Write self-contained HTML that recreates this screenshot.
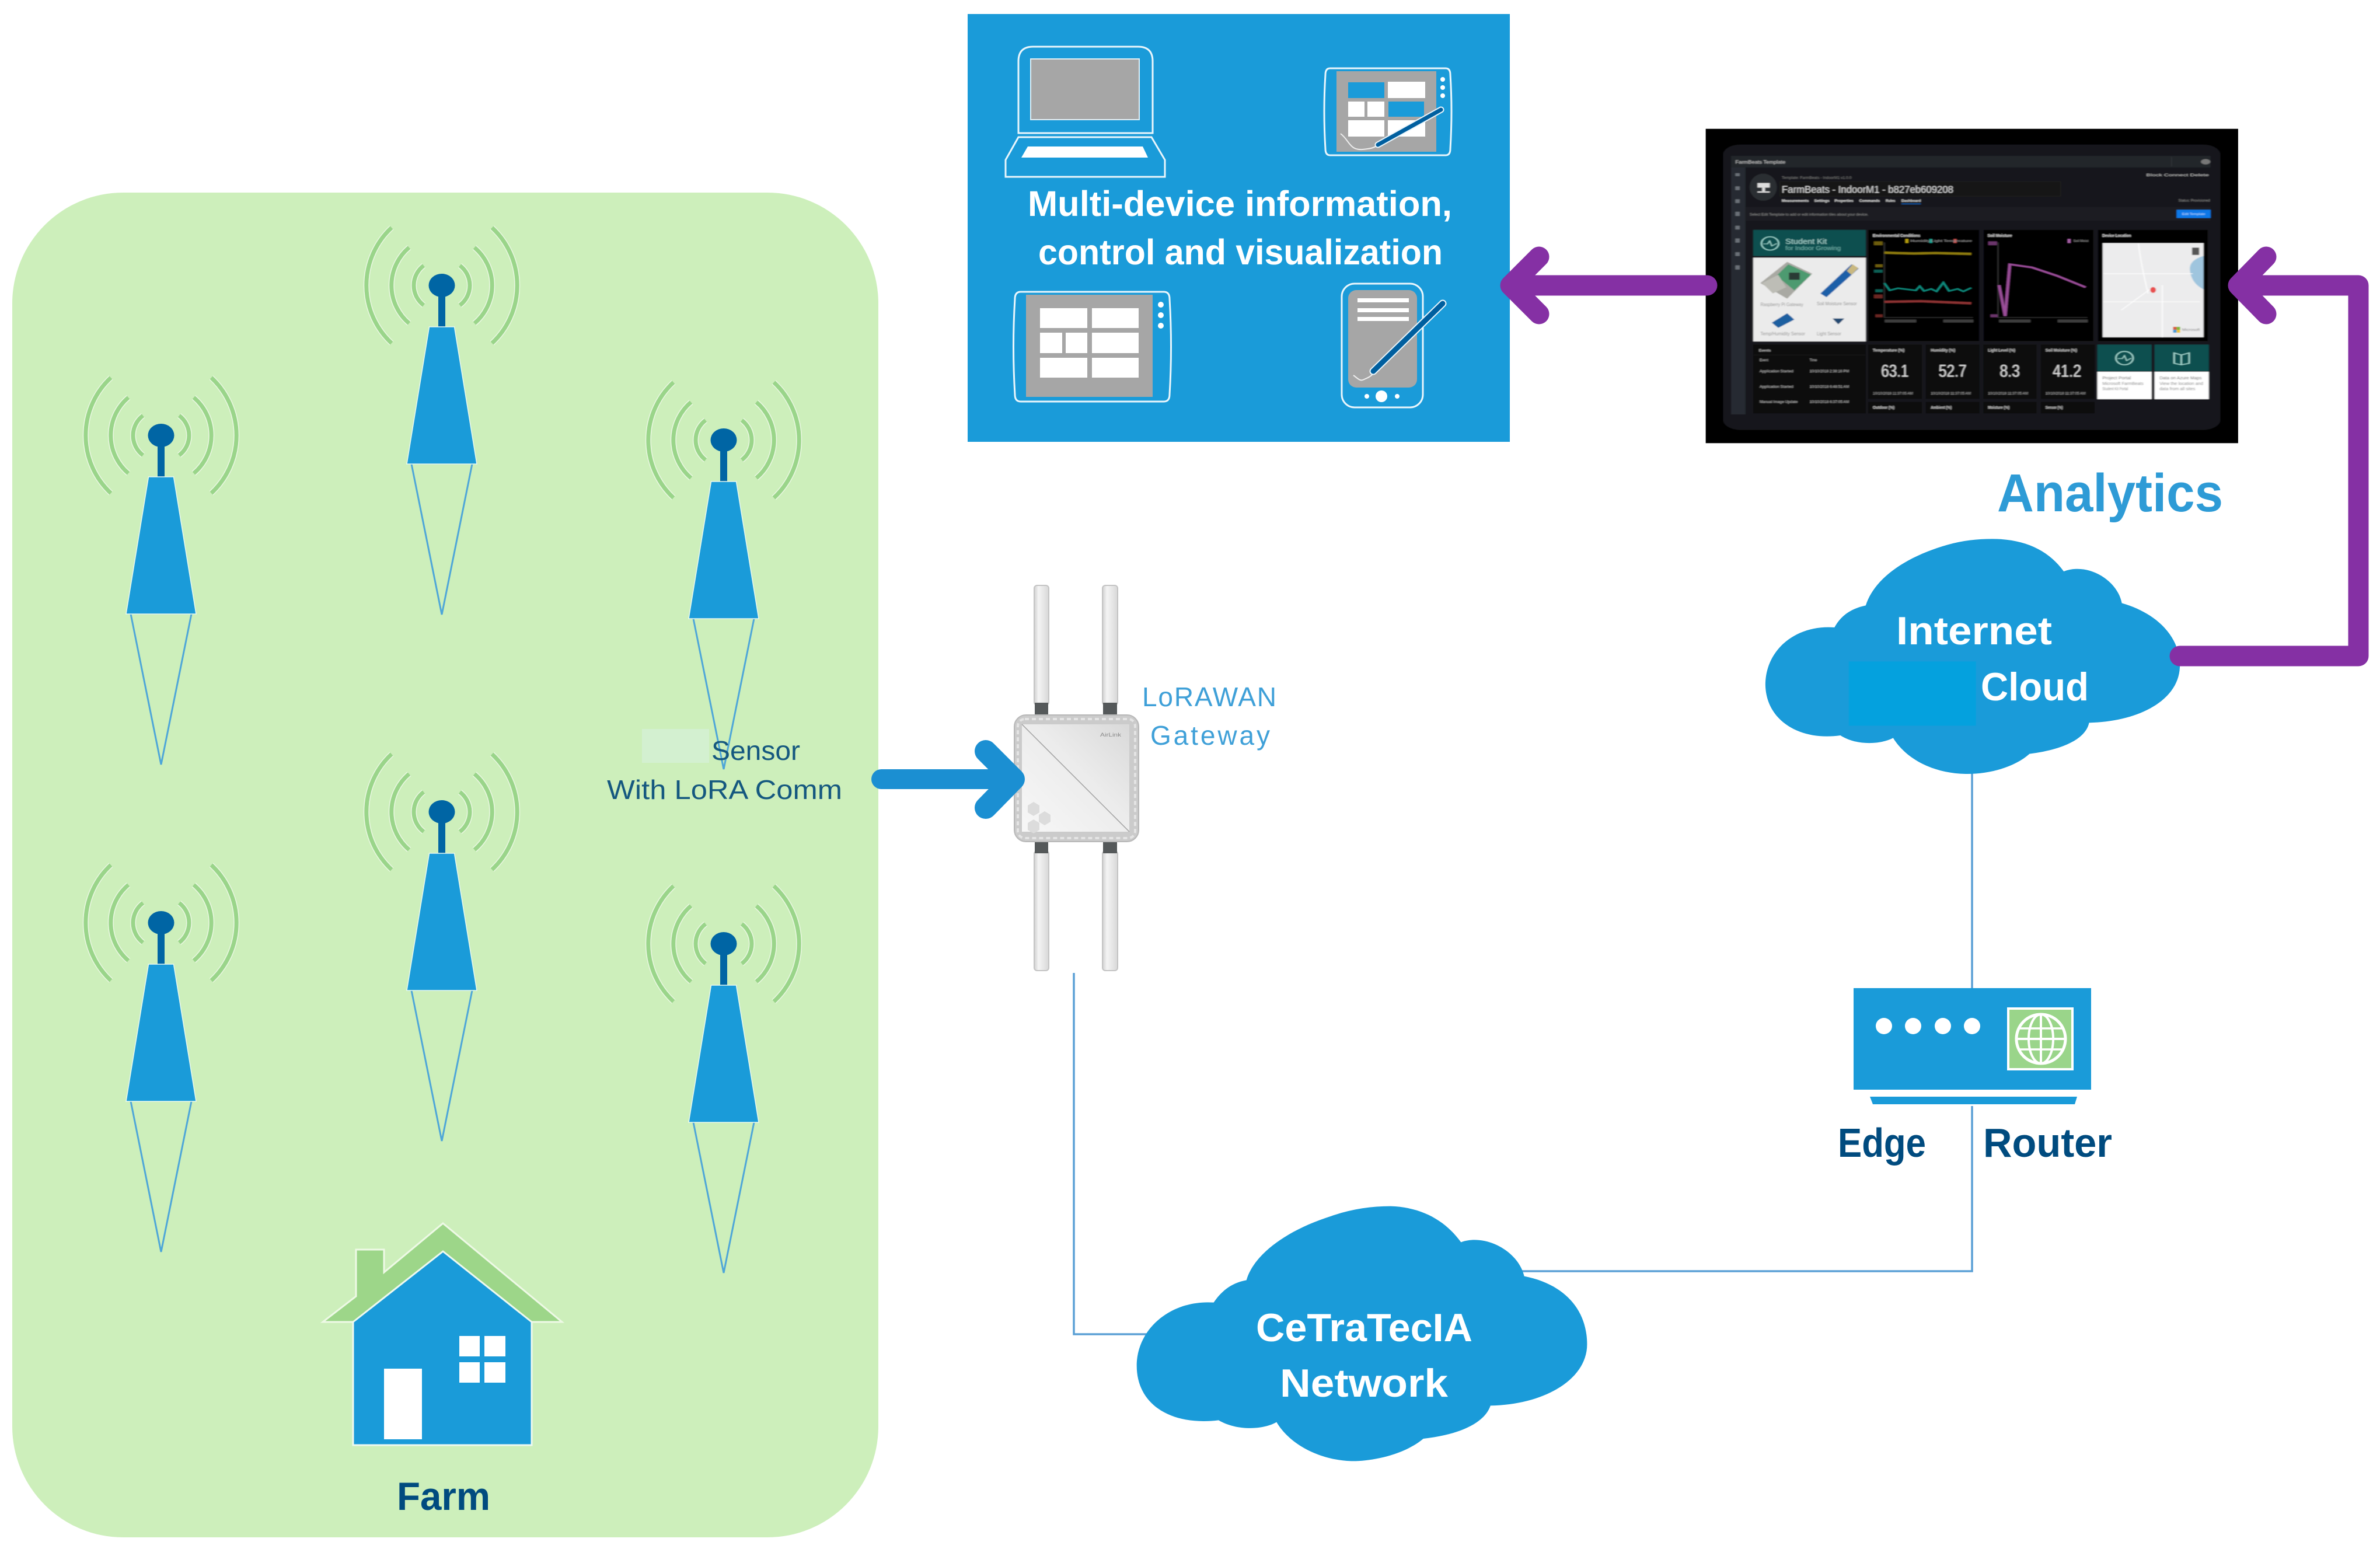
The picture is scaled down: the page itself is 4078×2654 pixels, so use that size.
<!DOCTYPE html>
<html>
<head>
<meta charset="utf-8">
<style>
html,body{margin:0;padding:0;background:#fff}
svg{display:block}
text{font-family:"Liberation Sans",sans-serif}
.b{font-weight:bold}
</style>
</head>
<body>
<svg xmlns="http://www.w3.org/2000/svg" width="4078" height="2654" viewBox="0 0 4078 2654">
<defs>
<g id="tower">
  <g fill="none" stroke-linecap="butt">
    <g stroke="#eaf7e2" stroke-width="10">
      <path d="M-86 -99A135 135 0 0 0 -86 99"/><path d="M86 -99A135 135 0 0 1 86 99"/>
      <path d="M-56 -65A85 85 0 0 0 -56 65"/><path d="M56 -65A85 85 0 0 1 56 65"/>
      <path d="M-31 -34A42.5 42.5 0 0 0 -31 34"/><path d="M31 -34A42.5 42.5 0 0 1 31 34"/>
    </g>
    <g stroke="#9AD58A" stroke-width="7">
      <path d="M-86 -99A135 135 0 0 0 -86 99"/><path d="M86 -99A135 135 0 0 1 86 99"/>
      <path d="M-56 -65A85 85 0 0 0 -56 65"/><path d="M56 -65A85 85 0 0 1 56 65"/>
      <path d="M-31 -34A42.5 42.5 0 0 0 -31 34"/><path d="M31 -34A42.5 42.5 0 0 1 31 34"/>
    </g>
  </g>
  <rect x="-6" y="0" width="12" height="71" fill="#0065A4"/>
  <ellipse cx="0" cy="0" rx="22.5" ry="20" fill="#0065A4"/>
  <path d="M-52 306L0 564L52 306" fill="none" stroke="#4EA6D8" stroke-width="3"/>
  <polygon points="-21.5,71 21.5,71 60,306 -60,306" fill="#1A9BD9" stroke="#e8f8f0" stroke-width="1.5"/>
</g>
<linearGradient id="gw" x1="0" y1="1" x2="1" y2="0">
  <stop offset="0" stop-color="#f7f7f7"/><stop offset=".55" stop-color="#ececec"/><stop offset="1" stop-color="#d9d9d9"/>
</linearGradient>
<linearGradient id="ant" x1="0" y1="0" x2="1" y2="0">
  <stop offset="0" stop-color="#cfcfcf"/><stop offset=".3" stop-color="#f4f4f4"/><stop offset="1" stop-color="#d8d8d8"/>
</linearGradient>
<filter id="soft" x="0" y="0" width="100%" height="100%"><feGaussianBlur stdDeviation="1.6"/></filter>
</defs>

<rect width="4078" height="2654" fill="#fff"/>

<!-- Farm area -->
<rect x="21" y="330" width="1484" height="2304" rx="190" ry="190" fill="#CDEFBB"/>

<use href="#tower" x="276" y="746"/>
<use href="#tower" x="757" y="489"/>
<use href="#tower" x="1240" y="754"/>
<use href="#tower" x="276" y="1581"/>
<use href="#tower" x="757" y="1391"/>
<use href="#tower" x="1240" y="1617"/>

<!-- sensor label -->
<rect x="1100" y="1249" width="115" height="58" fill="#D3F0D0"/>
<text x="1219" y="1302" font-size="46" fill="#15587F" textLength="152" lengthAdjust="spacingAndGlyphs">Sensor</text>
<text x="1040" y="1369" font-size="46" fill="#15587F" textLength="403" lengthAdjust="spacingAndGlyphs">With LoRA Comm</text>

<!-- House -->
<polygon points="553,2265 610,2221 610,2141 658,2141 658,2180 759,2096 963,2265" fill="#9DD689" stroke="#eef9e6" stroke-width="3"/>
<polygon points="605,2265 759,2144 911,2265 911,2476 605,2476" fill="#1A9BD9" stroke="#eef9f0" stroke-width="3"/>
<rect x="658" y="2345" width="65" height="121" fill="#fff"/>
<rect x="787" y="2289" width="35" height="35" fill="#fff"/>
<rect x="830" y="2289" width="36" height="35" fill="#fff"/>
<rect x="787" y="2334" width="35" height="35" fill="#fff"/>
<rect x="830" y="2334" width="36" height="35" fill="#fff"/>
<text x="680" y="2587" class="b" font-size="68" fill="#004B7F" textLength="160" lengthAdjust="spacingAndGlyphs">Farm</text>

<!-- Gateway -->
<rect x="1772" y="1003" width="25" height="205" rx="5" fill="url(#ant)" stroke="#c4c4c4" stroke-width="2"/>
<rect x="1889" y="1003" width="26" height="205" rx="5" fill="url(#ant)" stroke="#c4c4c4" stroke-width="2"/>
<rect x="1772" y="1458" width="25" height="205" rx="5" fill="url(#ant)" stroke="#c4c4c4" stroke-width="2"/>
<rect x="1889" y="1458" width="26" height="205" rx="5" fill="url(#ant)" stroke="#c4c4c4" stroke-width="2"/>
<rect x="1773" y="1204" width="23" height="22" fill="#55595a"/>
<rect x="1890" y="1204" width="24" height="22" fill="#55595a"/>
<rect x="1773" y="1442" width="23" height="20" fill="#55595a"/>
<rect x="1890" y="1442" width="24" height="20" fill="#55595a"/>
<rect x="1738" y="1225" width="213" height="217" rx="20" fill="#cbcbcb" stroke="#b8b8b8" stroke-width="2"/>
<rect x="1744" y="1232" width="201" height="204" rx="12" fill="none" stroke="#e4e4e4" stroke-width="4" stroke-dasharray="7 5"/>
<rect x="1751" y="1241" width="184" height="184" fill="url(#gw)"/>
<line x1="1751" y1="1241" x2="1935" y2="1425" stroke="#a0a0a0" stroke-width="1.5"/>
<g fill="#dcdcdc">
  <polygon points="1771,1374 1781,1380 1781,1392 1771,1398 1761,1392 1761,1380"/>
  <polygon points="1790,1390 1800,1396 1800,1408 1790,1414 1780,1408 1780,1396"/>
  <polygon points="1771,1404 1781,1410 1781,1422 1771,1428 1761,1422 1761,1410"/>
</g>
<text x="1885" y="1262" font-size="9" fill="#8a8a8a" textLength="36" lengthAdjust="spacingAndGlyphs">AirLink</text>

<text x="1957" y="1210" font-size="46" fill="#3FA0D8" textLength="230" lengthAdjust="spacing">LoRAWAN</text>
<text x="1971" y="1276" font-size="46" fill="#3FA0D8" textLength="205" lengthAdjust="spacing">Gateway</text>

<!-- Blue arrow -->
<g fill="none" stroke="#1B8FD2" stroke-linecap="round" stroke-linejoin="round">
  <path d="M1510 1335H1735" stroke-width="34"/>
  <path d="M1689 1287L1737 1335L1689 1384" stroke-width="38"/>
</g>

<!-- Connectors -->
<g fill="none" stroke="#5BA0D5" stroke-width="3.5">
  <path d="M1840 1667V2286H1965"/>
  <path d="M2605 2178H3379V1895"/>
  <path d="M3379 1320V1695"/>
</g>

<!-- Network cloud -->
<svg x="1900" y="2030" width="880" height="500" viewBox="0 0 1568 1500" preserveAspectRatio="none">
  <path fill="#1A9BD9" d="M320 605C340 555 370 505 420 490C440 370 530 240 680 160C740 125 800 110 860 110C960 115 1030 190 1075 295C1150 250 1250 340 1268 470C1390 510 1460 640 1460 820C1460 1000 1330 1130 1165 1135C1150 1210 1090 1280 960 1305C900 1390 800 1422 740 1420C640 1415 550 1330 512 1220C470 1260 390 1265 335 1210C190 1240 85 1130 85 930C85 740 190 590 320 605Z"/>
</svg>
<text x="2152" y="2298" class="b" font-size="68" fill="#fff" textLength="371" lengthAdjust="spacingAndGlyphs">CeTraTecIA</text>
<text x="2193" y="2393" class="b" font-size="68" fill="#fff" textLength="288" lengthAdjust="spacingAndGlyphs">Network</text>

<!-- Internet cloud -->
<svg x="2980" y="900" width="800" height="460" viewBox="0 0 1568 1380" preserveAspectRatio="none">
  <path fill="#1A9BD9" d="M320 525C340 470 370 430 425 412C450 290 540 170 700 100C750 78 800 70 850 70C960 70 1040 130 1090 237C1170 190 1270 280 1285 400C1400 450 1480 570 1480 720C1480 900 1340 1010 1175 1015C1165 1090 1100 1150 975 1175C920 1250 830 1280 760 1278C650 1275 560 1200 517 1093C470 1130 390 1130 340 1080C200 1110 90 1000 88 820C88 640 190 510 320 525Z"/>
  <rect x="368" y="700" width="427" height="330" fill="#04A1DE"/>
</svg>
<text x="3249" y="1104" class="b" font-size="68" fill="#fff" textLength="267" lengthAdjust="spacingAndGlyphs">Internet</text>
<text x="3394" y="1200" class="b" font-size="68" fill="#fff" textLength="185" lengthAdjust="spacingAndGlyphs">Cloud</text>

<!-- Router -->
<rect x="3176" y="1693" width="407" height="174" fill="#1A9BD9"/>
<polygon points="3204,1879 3559,1879 3555,1892 3209,1892" fill="#1A9BD9"/>
<g fill="#fff">
  <circle cx="3228" cy="1758" r="14"/><circle cx="3278" cy="1758" r="14"/>
  <circle cx="3329" cy="1758" r="14"/><circle cx="3379" cy="1758" r="14"/>
</g>
<rect x="3441" y="1728" width="110" height="104" fill="#9AD58A" stroke="#fff" stroke-width="4"/>
<g fill="none" stroke="#fff" stroke-width="4">
  <circle cx="3497" cy="1780" r="42" stroke-width="5"/>
  <ellipse cx="3497" cy="1780" rx="21" ry="42"/>
  <line x1="3497" y1="1738" x2="3497" y2="1822"/>
  <line x1="3455" y1="1780" x2="3539" y2="1780"/>
  <line x1="3460" y1="1762" x2="3534" y2="1762" stroke-width="3.5"/>
  <line x1="3460" y1="1798" x2="3534" y2="1798" stroke-width="3.5"/>
</g>
<text x="3149" y="1982" class="b" font-size="70" fill="#004B7F" textLength="151" lengthAdjust="spacingAndGlyphs">Edge</text>
<text x="3398" y="1982" class="b" font-size="70" fill="#004B7F" textLength="221" lengthAdjust="spacingAndGlyphs">Router</text>

<!-- Multi-device panel -->
<rect x="1658" y="24" width="929" height="733" fill="#1A9BD9"/>
<!-- laptop -->
<g fill="none" stroke="#eaf6fc" stroke-width="3">
  <path d="M1745 228V105Q1745 80 1770 80H1950Q1975 80 1975 105V228Z"/>
  <polygon points="1723,303 1723,274 1745,235 1973,235 1996,274 1996,303"/>
</g>
<rect x="1766" y="101" width="186" height="104" fill="#A6A6A6" stroke="#dfeef5" stroke-width="2"/>
<polygon points="1761,251 1958,251 1967,270 1750,270" fill="#fff"/>
<!-- tablet top right -->
<path d="M2279 117H2477Q2485 117 2485 128Q2489 190 2485 255Q2485 266 2477 266H2279Q2271 266 2271 255Q2267 190 2271 128Q2271 117 2279 117Z" fill="none" stroke="#eaf6fc" stroke-width="3"/>
<rect x="2290" y="122" width="171" height="138" fill="#A6A6A6"/>
<g fill="#fff">
  <rect x="2378" y="140" width="64" height="28"/>
  <rect x="2310" y="174" width="28" height="26"/><rect x="2343" y="174" width="29" height="26"/>
  <rect x="2310" y="206" width="62" height="28"/><rect x="2378" y="206" width="64" height="28"/>
  <circle cx="2472" cy="136" r="4"/><circle cx="2472" cy="150" r="4"/><circle cx="2472" cy="164" r="4"/>
</g>
<rect x="2310" y="141" width="62" height="27" fill="#1A9BD9"/>
<rect x="2379" y="174" width="61" height="26" fill="#1A9BD9"/>
<path d="M2297 229C2312 240 2312 258 2335 256C2345 255 2355 254 2361 248" fill="none" stroke="#eee" stroke-width="2"/>
<path d="M2469 188L2361 248" stroke="#eaf6fc" stroke-width="11" stroke-linecap="round"/>
<path d="M2469 188L2361 248" stroke="#005F9F" stroke-width="7" stroke-linecap="round"/>
<!-- tablet bottom left -->
<path d="M1749 500H1994Q2004 500 2004 512Q2009 594 2004 676Q2004 688 1994 688H1749Q1739 688 1739 676Q1734 594 1739 512Q1739 500 1749 500Z" fill="none" stroke="#eaf6fc" stroke-width="3"/>
<rect x="1758" y="505" width="217" height="175" fill="#A6A6A6"/>
<g fill="#fff">
  <rect x="1782" y="528" width="81" height="34"/><rect x="1871" y="528" width="80" height="34"/>
  <rect x="1782" y="570" width="38" height="35"/><rect x="1826" y="570" width="37" height="35"/><rect x="1871" y="570" width="80" height="35"/>
  <rect x="1782" y="613" width="81" height="34"/><rect x="1871" y="613" width="80" height="34"/>
  <circle cx="1989" cy="522" r="5"/><circle cx="1989" cy="540" r="5"/><circle cx="1989" cy="558" r="5"/>
</g>
<!-- phone -->
<rect x="2299" y="486" width="139" height="212" rx="22" fill="none" stroke="#eaf6fc" stroke-width="3"/>
<rect x="2310" y="497" width="118" height="167" rx="14" fill="#A6A6A6"/>
<g fill="#fff">
  <rect x="2326" y="511" width="88" height="7"/><rect x="2326" y="528" width="88" height="7"/><rect x="2326" y="543" width="88" height="7"/>
  <circle cx="2367" cy="679" r="10"/><circle cx="2342" cy="679" r="4"/><circle cx="2394" cy="679" r="4"/>
</g>
<path d="M2319 643C2326 648 2330 653 2335 651C2342 648 2348 646 2353 640" fill="none" stroke="#eee" stroke-width="2"/>
<path d="M2472 520L2353 636" stroke="#eaf6fc" stroke-width="13" stroke-linecap="round"/>
<path d="M2472 520L2353 636" stroke="#005F9F" stroke-width="9" stroke-linecap="round"/>

<text x="1761" y="370" class="b" font-size="61" fill="#fff" textLength="727" lengthAdjust="spacingAndGlyphs">Multi-device information,</text>
<text x="1779" y="453" class="b" font-size="61" fill="#fff" textLength="693" lengthAdjust="spacingAndGlyphs">control and visualization</text>

<!-- Dashboard -->
<svg x="2900" y="210" width="960" height="560" viewBox="0 0 1568 1568" preserveAspectRatio="none">
  <rect x="37" y="30" width="1490" height="1508" fill="#000"/>
<g filter="url(#soft)">
  <rect x="85" y="105" width="1393" height="1370" rx="50" fill="#16181a"/>
  <rect x="108" y="160" width="1342" height="1240" fill="#17191c"/>
  <rect x="108" y="160" width="1342" height="55" fill="#23272c"/>
  <rect x="108" y="215" width="40" height="1185" fill="#262c33"/>
  <text x="120" y="198" font-size="24" fill="#c9c9c9" textLength="140" lengthAdjust="spacingAndGlyphs">FarmBeats Template</text>
  <circle cx="1436" cy="188" r="13" fill="#777" />
  <rect x="1340" y="165" width="1" height="45" fill="#444"/>
  <g fill="#6a7077">
    <rect x="120" y="243" width="12" height="14"/><rect x="120" y="306" width="12" height="18"/><rect x="120" y="368" width="12" height="18"/><rect x="120" y="428" width="12" height="20"/><rect x="120" y="495" width="12" height="18"/><rect x="120" y="556" width="12" height="20"/><rect x="120" y="622" width="12" height="18"/><rect x="120" y="685" width="12" height="20"/>
  </g>
  <ellipse cx="198" cy="310" rx="38" ry="65" fill="#2b2e31"/>
  <rect x="182" y="290" width="34" height="22" fill="#ddd"/>
  <rect x="195" y="312" width="8" height="18" fill="#ddd"/>
  <rect x="182" y="330" width="34" height="6" fill="#ddd"/>
  <text x="250" y="270" font-size="18" fill="#777" textLength="195" lengthAdjust="spacingAndGlyphs">Template: FarmBeats - IndoorM1 v1.0.0</text>
  <rect x="245" y="283" width="785" height="70" fill="#141618" stroke="#222" stroke-width="2"/>
  <text x="250" y="337" font-size="48" fill="#d8d8d8" textLength="480" lengthAdjust="spacingAndGlyphs">FarmBeats - IndoorM1 - b827eb609208</text>
  <g font-size="19" fill="#e0e0e0" font-weight="bold">
    <text x="250" y="381" textLength="75" lengthAdjust="spacingAndGlyphs">Measurements</text>
    <text x="341" y="381" textLength="42" lengthAdjust="spacingAndGlyphs">Settings</text>
    <text x="398" y="381" textLength="52" lengthAdjust="spacingAndGlyphs">Properties</text>
    <text x="467" y="381" textLength="57" lengthAdjust="spacingAndGlyphs">Commands</text>
    <text x="541" y="381" textLength="26" lengthAdjust="spacingAndGlyphs">Rules</text>
    <text x="585" y="381" textLength="54" lengthAdjust="spacingAndGlyphs">Dashboard</text>
  </g>
  <rect x="585" y="388" width="54" height="4" fill="#0a5fb4"/>
  <text x="1270" y="257" font-size="17" fill="#bbb" textLength="175" lengthAdjust="spacingAndGlyphs">Block  Connect  Delete</text>
  <text x="1360" y="380" font-size="18" fill="#888" textLength="88" lengthAdjust="spacingAndGlyphs">Status: Provisioned</text>
  <rect x="148" y="405" width="1302" height="65" fill="#1c1f23"/>
  <text x="160" y="447" font-size="18" fill="#8a8a8a" textLength="332" lengthAdjust="spacingAndGlyphs">Select Edit Template to add or edit information tiles about your device.</text>
  <rect x="1355" y="418" width="95" height="40" fill="#0a78e8"/>
  <text x="1370" y="444" font-size="15" fill="#bfe0ff" textLength="65" lengthAdjust="spacingAndGlyphs">Edit Template</text>

  <!-- Student kit -->
  <rect x="170" y="515" width="315" height="125" fill="#07504f"/>
  <rect x="170" y="648" width="315" height="402" fill="#ebebeb"/>
  <ellipse cx="217" cy="580" rx="24" ry="32" fill="none" stroke="#9fd7cf" stroke-width="4"/>
  <path d="M198 582H210L216 568L222 592L236 580" fill="none" stroke="#9fd7cf" stroke-width="3"/>
  <text x="260" y="582" font-size="36" fill="#a9d6d0" textLength="116" lengthAdjust="spacingAndGlyphs">Student Kit</text>
  <text x="260" y="612" font-size="28" fill="#6fb3ab" textLength="155" lengthAdjust="spacingAndGlyphs">for Indoor Growing</text>
  <polygon points="265,668 335,725 265,845 190,770" fill="#a9a9a3"/>
  <polygon points="268,680 332,730 285,805 235,735" fill="#4e9a70"/>
  <polygon points="195,770 240,730 262,790 225,820" fill="#bdbdb6"/>
  <rect x="270" y="720" width="30" height="34" fill="#2a3a34"/>
  <polygon points="445,680 465,700 375,838 358,820" fill="#1f5fa8"/>
  <polygon points="448,680 464,698 445,730 432,712" fill="#c9b880"/>
  <polygon points="265,915 285,945 240,985 222,960" fill="#1f5fa0"/>
  <polygon points="392,940 425,940 408,968" fill="#234a72"/>
  <g font-size="22" fill="#8d8d8d">
    <text x="190" y="880" textLength="120" lengthAdjust="spacingAndGlyphs">Raspberry Pi Gateway</text>
    <text x="348" y="876" textLength="112" lengthAdjust="spacingAndGlyphs">Soil Moisture Sensor</text>
    <text x="190" y="1020" textLength="125" lengthAdjust="spacingAndGlyphs">Temp/Humidity Sensor</text>
    <text x="348" y="1020" textLength="68" lengthAdjust="spacingAndGlyphs">Light Sensor</text>
  </g>

  <!-- charts -->
  <rect x="492" y="515" width="310" height="533" fill="#060606"/>
  <rect x="815" y="515" width="307" height="533" fill="#060606"/>
  <rect x="1135" y="515" width="307" height="533" fill="#060606"/>
  <g font-size="20" fill="#ddd" font-weight="bold">
    <text x="505" y="549" textLength="132" lengthAdjust="spacingAndGlyphs">Environmental Conditions</text>
    <text x="826" y="549" textLength="68" lengthAdjust="spacingAndGlyphs">Soil Moisture</text>
    <text x="1147" y="549" textLength="80" lengthAdjust="spacingAndGlyphs">Device Location</text>
  </g>
  <path d="M537 575V935H785" fill="none" stroke="#333" stroke-width="3"/>
  <path d="M855 575V935H1105" fill="none" stroke="#333" stroke-width="3"/>
  <path d="M537 624L570 626L620 628L680 626L780 630" fill="none" stroke="#8d7a10" stroke-width="11"/>
  <path d="M537 770L552 805L575 795L625 805L636 785L648 808L668 798L683 810L702 768L718 808L742 798L758 810L780 793" fill="none" stroke="#0d8a7d" stroke-width="6"/>
  <path d="M537 860L640 857L780 867" fill="none" stroke="#8a3230" stroke-width="11"/>
  <path d="M858 780L875 928L888 680L950 695L1020 735L1100 790" fill="none" stroke="#9a4d98" stroke-width="8"/>
  <rect x="596" y="558" width="8" height="20" fill="#b8a010"/>
  <rect x="663" y="558" width="8" height="20" fill="#0fa090"/>
  <rect x="731" y="558" width="8" height="20" fill="#c04b48"/>
  <rect x="1050" y="558" width="8" height="20" fill="#a860a8"/>
  <rect x="508" y="570" width="24" height="18" fill="#6d5d10"/><rect x="512" y="680" width="20" height="14" fill="#6d5d10"/>
  <rect x="508" y="706" width="24" height="14" fill="#0a5e54"/><rect x="512" y="800" width="20" height="14" fill="#0a5e54"/>
  <rect x="508" y="825" width="24" height="18" fill="#6a2624"/><rect x="512" y="920" width="20" height="14" fill="#6a2624"/>
  <rect x="828" y="570" width="24" height="18" fill="#6a356a"/><rect x="834" y="920" width="20" height="14" fill="#6a356a"/>
  <rect x="538" y="945" width="88" height="14" fill="#3c3c3c"/><rect x="702" y="945" width="84" height="14" fill="#3c3c3c"/>
  <rect x="858" y="945" width="88" height="14" fill="#3c3c3c"/><rect x="1022" y="945" width="84" height="14" fill="#3c3c3c"/>
  <text x="610" y="573" font-size="16" fill="#999" textLength="172" lengthAdjust="spacingAndGlyphs">Humidity   Light   Temperature</text>
  <text x="1066" y="573" font-size="16" fill="#999" textLength="42" lengthAdjust="spacingAndGlyphs">Soil Moist</text>

  <!-- map -->
  <rect x="1148" y="578" width="282" height="452" fill="#ececed"/>
  <path d="M1430 640Q1390 660 1392 705Q1395 770 1430 800Z" fill="#9fc5de"/>
  <path d="M1248 580Q1255 680 1275 820M1150 725H1400M1200 900L1280 800M1150 860H1420M1315 780V1030" fill="none" stroke="#fff" stroke-width="3"/>
  <ellipse cx="1289" cy="803" rx="8" ry="14" fill="#e8504f"/>
  <rect x="1398" y="600" width="20" height="35" fill="#555"/>
  <rect x="1345" y="980" width="10" height="14" fill="#d85a3a"/>
  <rect x="1355" y="980" width="10" height="14" fill="#7fb93a"/>
  <rect x="1345" y="994" width="10" height="14" fill="#3a9ad8"/>
  <rect x="1355" y="994" width="10" height="14" fill="#e8c030"/>
  <text x="1370" y="1000" font-size="17" fill="#777" textLength="50" lengthAdjust="spacingAndGlyphs">Microsoft</text>

  <!-- events -->
  <rect x="170" y="1065" width="315" height="330" fill="#070707"/>
  <line x1="170" y1="1115" x2="485" y2="1115" stroke="#222" stroke-width="2"/>
  <g font-size="19" fill="#bbb">
    <text x="186" y="1099" font-weight="bold" textLength="33" lengthAdjust="spacingAndGlyphs">Events</text>
    <text x="188" y="1145" textLength="24" lengthAdjust="spacingAndGlyphs">Event</text>
    <text x="328" y="1145" textLength="20" lengthAdjust="spacingAndGlyphs">Time</text>
    <text x="188" y="1198" textLength="94" lengthAdjust="spacingAndGlyphs">Application Started</text>
    <text x="328" y="1198" textLength="110" lengthAdjust="spacingAndGlyphs">10/10/2018 2:38:16 PM</text>
    <text x="188" y="1272" textLength="94" lengthAdjust="spacingAndGlyphs">Application Started</text>
    <text x="328" y="1272" textLength="110" lengthAdjust="spacingAndGlyphs">10/10/2018 6:48:51 AM</text>
    <text x="188" y="1345" textLength="106" lengthAdjust="spacingAndGlyphs">Manual Image Update</text>
    <text x="328" y="1345" textLength="110" lengthAdjust="spacingAndGlyphs">10/10/2018 6:37:05 AM</text>
  </g>

  <!-- metric tiles -->
  <g fill="#070707">
    <rect x="492" y="1065" width="150" height="260"/><rect x="653" y="1065" width="150" height="260"/><rect x="814" y="1065" width="149" height="260"/><rect x="975" y="1065" width="150" height="260"/>
    <rect x="492" y="1340" width="150" height="55"/><rect x="653" y="1340" width="150" height="55"/><rect x="814" y="1340" width="149" height="55"/><rect x="975" y="1340" width="150" height="55"/>
  </g>
  <g font-size="84" fill="#dcdcdc">
    <text x="528" y="1220" textLength="77" lengthAdjust="spacingAndGlyphs">63.1</text>
    <text x="689" y="1220" textLength="78" lengthAdjust="spacingAndGlyphs">52.7</text>
    <text x="860" y="1220" textLength="56" lengthAdjust="spacingAndGlyphs">8.3</text>
    <text x="1008" y="1220" textLength="80" lengthAdjust="spacingAndGlyphs">41.2</text>
  </g>
  <g font-size="20" fill="#ccc" font-weight="bold">
    <text x="505" y="1099" textLength="88" lengthAdjust="spacingAndGlyphs">Temperature (%)</text>
    <text x="667" y="1099" textLength="68" lengthAdjust="spacingAndGlyphs">Humidity (%)</text>
    <text x="827" y="1099" textLength="76" lengthAdjust="spacingAndGlyphs">Light Level (%)</text>
    <text x="988" y="1099" textLength="88" lengthAdjust="spacingAndGlyphs">Soil Moisture (%)</text>
    <text x="505" y="1373" textLength="60" lengthAdjust="spacingAndGlyphs">Outdoor (%)</text>
    <text x="667" y="1373" textLength="58" lengthAdjust="spacingAndGlyphs">Ambient (%)</text>
    <text x="827" y="1373" textLength="60" lengthAdjust="spacingAndGlyphs">Moisture (%)</text>
    <text x="988" y="1373" textLength="48" lengthAdjust="spacingAndGlyphs">Sensor (%)</text>
  </g>
  <g font-size="18" fill="#aaa">
    <text x="505" y="1305" textLength="112" lengthAdjust="spacingAndGlyphs">10/10/2018 11:37:05 AM</text>
    <text x="667" y="1305" textLength="112" lengthAdjust="spacingAndGlyphs">10/10/2018 11:37:05 AM</text>
    <text x="827" y="1305" textLength="112" lengthAdjust="spacingAndGlyphs">10/10/2018 11:37:05 AM</text>
    <text x="988" y="1305" textLength="112" lengthAdjust="spacingAndGlyphs">10/10/2018 11:37:05 AM</text>
  </g>

  <!-- cards -->
  <rect x="1133" y="1065" width="152" height="127" fill="#07504f"/>
  <rect x="1293" y="1065" width="152" height="127" fill="#07504f"/>
  <rect x="1133" y="1195" width="152" height="132" fill="#fff"/>
  <rect x="1293" y="1195" width="152" height="132" fill="#fff"/>
  <ellipse cx="1209" cy="1130" rx="24" ry="32" fill="none" stroke="#a4d8d0" stroke-width="4"/>
  <path d="M1190 1132H1203L1209 1118L1215 1142L1228 1130" fill="none" stroke="#a4d8d0" stroke-width="3"/>
  <path d="M1348 1105L1368 1115L1390 1105V1155L1368 1162L1348 1155Z M1368 1115V1162" fill="none" stroke="#a4d8d0" stroke-width="4"/>
  <g font-size="21" fill="#7a7a7a">
    <text x="1147" y="1232" fill="#555" textLength="80" lengthAdjust="spacingAndGlyphs">Project Portal</text>
    <text x="1147" y="1259" textLength="115" lengthAdjust="spacingAndGlyphs">Microsoft FarmBeats</text>
    <text x="1147" y="1284" textLength="72" lengthAdjust="spacingAndGlyphs">Student Kit Portal</text>
    <text x="1307" y="1232" fill="#555" textLength="118" lengthAdjust="spacingAndGlyphs">Data on Azure Maps</text>
    <text x="1307" y="1259" textLength="122" lengthAdjust="spacingAndGlyphs">View the location and</text>
    <text x="1307" y="1284" textLength="100" lengthAdjust="spacingAndGlyphs">data from all sites</text>
  </g>
</g>
</svg>

<!-- Analytics -->
<text x="3422" y="876" class="b" font-size="92" fill="#2E9BD6" textLength="387" lengthAdjust="spacingAndGlyphs">Analytics</text>

<!-- Purple arrows -->
<g fill="none" stroke="#8530A4" stroke-width="35" stroke-linecap="round" stroke-linejoin="round">
  <path d="M2925 489H2600"/>
  <path d="M2637 440L2588 489L2637 538"/>
  <path d="M3735 1124H4041V489H3845"/>
  <path d="M3883 440L3835 489L3883 538"/>
</g>
</svg>
</body>
</html>
